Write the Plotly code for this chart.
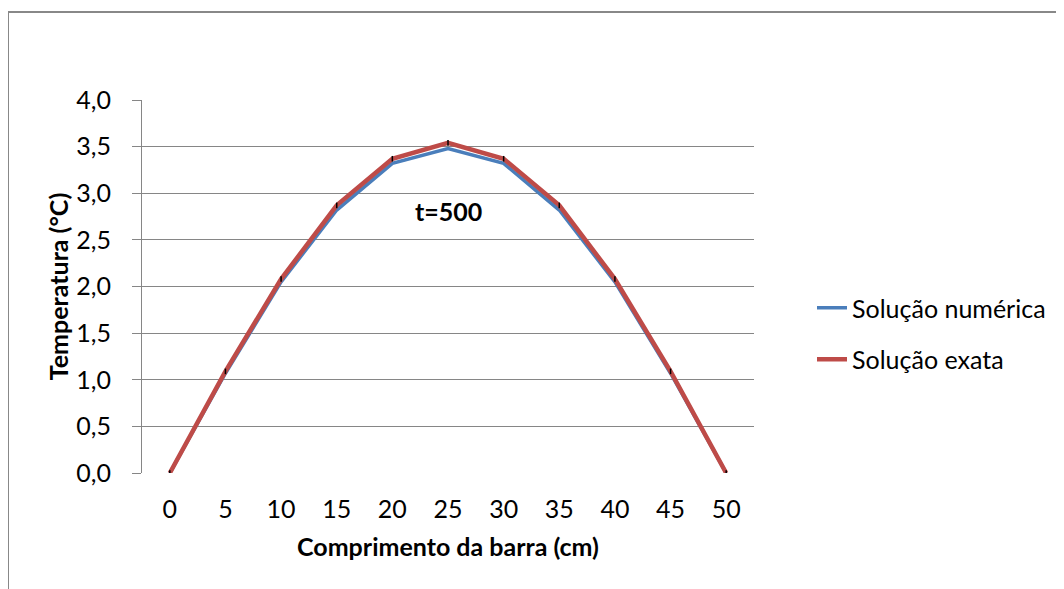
import plotly.graph_objects as go

comprimento = [0, 5, 10, 15, 20, 25, 30, 35, 40, 45, 50]
sol_numerica = [0.0, 1.07, 2.05, 2.82, 3.32, 3.48, 3.32, 2.82, 2.05, 1.07, 0.0]
sol_exata = [0.0, 1.09, 2.08, 2.87, 3.37, 3.54, 3.37, 2.87, 2.08, 1.09, 0.0]
y_ticks = [0.0, 0.5, 1.0, 1.5, 2.0, 2.5, 3.0, 3.5, 4.0]

FONT = "Lato"
GRID = "#868686"

fig = go.Figure()
fig.add_trace(go.Scatter(x=comprimento, y=sol_numerica, mode="lines",
                         name="Solução numérica", legendgroup="a",
                         line=dict(color="#4A7EBB", width=3.5)))
fig.add_trace(go.Scatter(x=comprimento, y=sol_exata, mode="lines",
                         name="Solução exata", legendgroup="b",
                         line=dict(color="#BE4B48", width=4.5)))
fig.add_trace(go.Scatter(x=comprimento, y=sol_exata, mode="markers",
                         showlegend=False, hoverinfo="skip",
                         marker=dict(symbol="line-ns", size=4,
                                     line=dict(color="black", width=1.5))))

# page has an 8px body margin; figure coordinates are page - 8
FW, FH = 1056, 581
L, T = 134, 92
W, H = 612, 373
R, B = FW - L - W, FH - T - H
YB = T + H  # figure y of plot bottom

fig.update_layout(
    width=FW, height=FH,
    margin=dict(l=L, r=R, t=T, b=B),
    paper_bgcolor="white", plot_bgcolor="white",
    separators=",.",
    font=dict(family=FONT, size=25, color="black"),
    showlegend=True,
    legend=dict(x=(804 - L) / W, y=(YB - 277) / H, xanchor="left", yanchor="top",
                font=dict(size=25), tracegroupgap=16, bgcolor="rgba(0,0,0,0)",
                itemwidth=30),
    xaxis=dict(range=[-2.5, 52.5], tickvals=comprimento, ticks="",
               showgrid=False, zeroline=False, showline=False,
               ticklabelstandoff=19,
               title=dict(text="<b>Comprimento da barra (cm)</b>", standoff=16,
                          font=dict(size=25))),
    yaxis=dict(range=[0, 4.0], tickvals=y_ticks, tickformat=".1f",
               ticks="outside", ticklen=9, tickcolor=GRID, tickwidth=1,
               showgrid=True, gridcolor=GRID, gridwidth=1,
               zeroline=False, showline=True, linecolor=GRID, linewidth=1,
               ticklabelstandoff=16,
               title=dict(text="<b>Temperatura (°C)</b>", standoff=0,
                          font=dict(size=25))),
    annotations=[dict(x=25, y=2.81, xref="x", yref="y", text="<b>t=500</b>",
                      showarrow=False, font=dict(size=25))],
    shapes=[dict(type="rect", xref="paper", yref="paper",
                 x0=(0 - L) / W, x1=(1070 - L) / W,
                 y0=(YB - 600) / H, y1=(YB - 4) / H,
                 line=dict(color="#888888", width=2), fillcolor="rgba(0,0,0,0)",
                 layer="below")],
)

fig.write_html("out.html")
